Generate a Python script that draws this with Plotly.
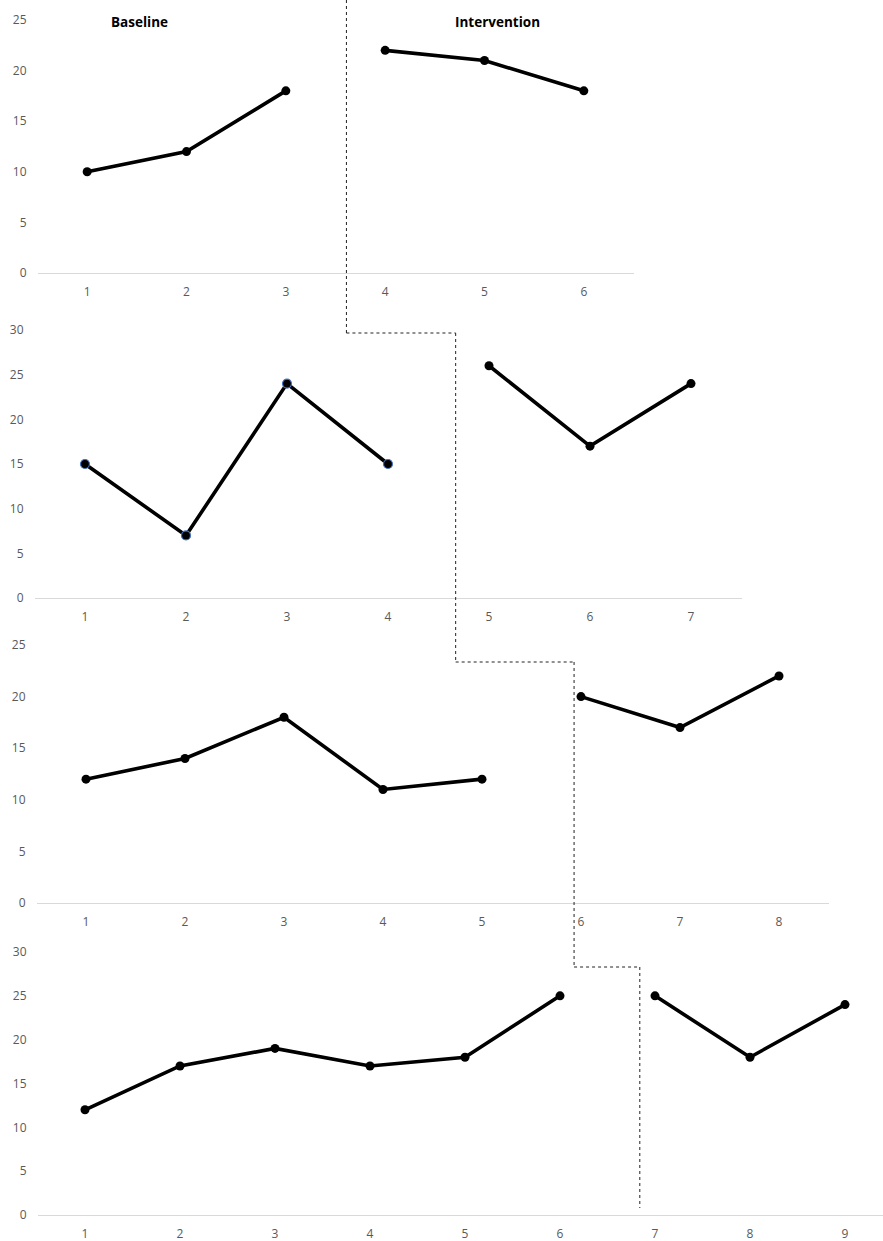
import plotly.graph_objects as go

W, H = 883, 1241

# ---------------- data ----------------
p1_base_x = [1, 2, 3]
p1_base_y = [10, 12, 18]
p1_int_x = [4, 5, 6]
p1_int_y = [22, 21, 18]

p2_base_x = [1, 2, 3, 4]
p2_base_y = [15, 7, 24, 15]
p2_int_x = [5, 6, 7]
p2_int_y = [26, 17, 24]

p3_base_x = [1, 2, 3, 4, 5]
p3_base_y = [12, 14, 18, 11, 12]
p3_int_x = [6, 7, 8]
p3_int_y = [20, 17, 22]

p4_base_x = [1, 2, 3, 4, 5, 6]
p4_base_y = [12, 17, 19, 17, 18, 25]
p4_int_x = [7, 8, 9]
p4_int_y = [25, 18, 24]

y_max = [25, 30, 25, 30]
n_sessions = [6, 7, 8, 9]
phase_change = [3.61, 4.67, 5.93, 6.84]   # where the dotted phase line sits (session units)

# ---------------- layout geometry (pixels) ----------------
x_dom_px = [(37.5, 633.5), (34.5, 741.5), (36.5, 828.5), (37.5, 883)]
x_rng = [(0.5, 6.5), (0.5, 7.5), (0.5, 8.5), (0.5, 9.4)]
y_px = [(273, 20), (598, 330), (903, 645), (1215, 952)]
connector_px = [333, 662, 967]   # y pixel of horizontal steps
line_bottom_px = 1208

def px_x(px):
    return px / W

def px_y(px):
    return 1 - px / H

def data_to_paper_x(i, xv):
    d0, d1 = px_x(x_dom_px[i][0]), px_x(x_dom_px[i][1])
    r0, r1 = x_rng[i]
    return d0 + (xv - r0) / (r1 - r0) * (d1 - d0)

TICK_FONT = dict(family="Open Sans", size=12, color="#595959")
LINE = dict(color="black", width=3.6)

fig = go.Figure()

series = [
    (p1_base_x, p1_base_y, p1_int_x, p1_int_y),
    (p2_base_x, p2_base_y, p2_int_x, p2_int_y),
    (p3_base_x, p3_base_y, p3_int_x, p3_int_y),
    (p4_base_x, p4_base_y, p4_int_x, p4_int_y),
]

for i, (bx, by, ix, iy) in enumerate(series):
    xa = "x" if i == 0 else f"x{i+1}"
    ya = "y" if i == 0 else f"y{i+1}"
    base_marker = dict(color="black", size=9)
    if i == 1:
        base_marker = dict(color="black", size=9, line=dict(color="#4472C4", width=1.2))
    fig.add_trace(go.Scatter(x=bx, y=by, mode="lines+markers", line=LINE,
                             marker=base_marker, xaxis=xa, yaxis=ya,
                             showlegend=False, cliponaxis=False))
    fig.add_trace(go.Scatter(x=ix, y=iy, mode="lines+markers", line=LINE,
                             marker=dict(color="black", size=9), xaxis=xa, yaxis=ya,
                             showlegend=False, cliponaxis=False))

layout = dict(
    width=W, height=H,
    margin=dict(l=0, r=0, t=0, b=0, autoexpand=False),
    paper_bgcolor="white", plot_bgcolor="white",
    showlegend=False,
)

for i in range(4):
    xk = "xaxis" if i == 0 else f"xaxis{i+1}"
    yk = "yaxis" if i == 0 else f"yaxis{i+1}"
    ya = "y" if i == 0 else f"y{i+1}"
    xa = "x" if i == 0 else f"x{i+1}"
    layout[xk] = dict(
        domain=[px_x(x_dom_px[i][0]), px_x(x_dom_px[i][1])],
        range=list(x_rng[i]),
        anchor=ya,
        tickmode="array",
        tickvals=list(range(1, n_sessions[i] + 1)),
        ticktext=[str(v) for v in range(1, n_sessions[i] + 1)],
        showgrid=False, zeroline=False,
        showline=True, linecolor="#d9d9d9", linewidth=1,
        ticks="", ticklabelstandoff=8,
        tickfont=TICK_FONT, fixedrange=True, automargin=False,
    )
    layout[yk] = dict(
        domain=[px_y(y_px[i][0]), px_y(y_px[i][1])],
        range=[0, y_max[i]],
        anchor=xa,
        dtick=5, tick0=0,
        showgrid=False, zeroline=False, showline=False,
        ticks="", ticklabelstandoff=10,
        tickfont=TICK_FONT, fixedrange=True, automargin=False,
    )

fig.update_layout(**layout)

# ---------------- phase-change dotted line ----------------
dot = dict(color="#222222", width=1, dash="dot")
shapes = []
px_list = [data_to_paper_x(i, phase_change[i]) for i in range(4)]
tops = [1.0] + [px_y(c) for c in connector_px]
bottoms = [px_y(c) for c in connector_px] + [px_y(line_bottom_px)]
for i in range(4):
    shapes.append(dict(type="line", xref="paper", yref="paper",
                       x0=px_list[i], x1=px_list[i], y0=tops[i], y1=bottoms[i], line=dot))
for i in range(3):
    shapes.append(dict(type="line", xref="paper", yref="paper",
                       x0=px_list[i], x1=px_list[i + 1], y0=bottoms[i], y1=bottoms[i], line=dot))
fig.update_layout(shapes=shapes)

# ---------------- phase titles ----------------
TITLE_FONT = dict(family="Open Sans", size=13.5, color="black")
fig.add_annotation(text="<b>Baseline</b>", x=1.53, xref="x", y=px_y(22), yref="paper",
                   showarrow=False, font=TITLE_FONT, xanchor="center", yanchor="middle")
fig.add_annotation(text="<b>Intervention</b>", x=5.13, xref="x", y=px_y(22), yref="paper",
                   showarrow=False, font=TITLE_FONT, xanchor="center", yanchor="middle")

fig.write_html("out.html", config={"displayModeBar": False},
               post_script="document.body.style.margin='0px';document.body.style.overflow='hidden';")
